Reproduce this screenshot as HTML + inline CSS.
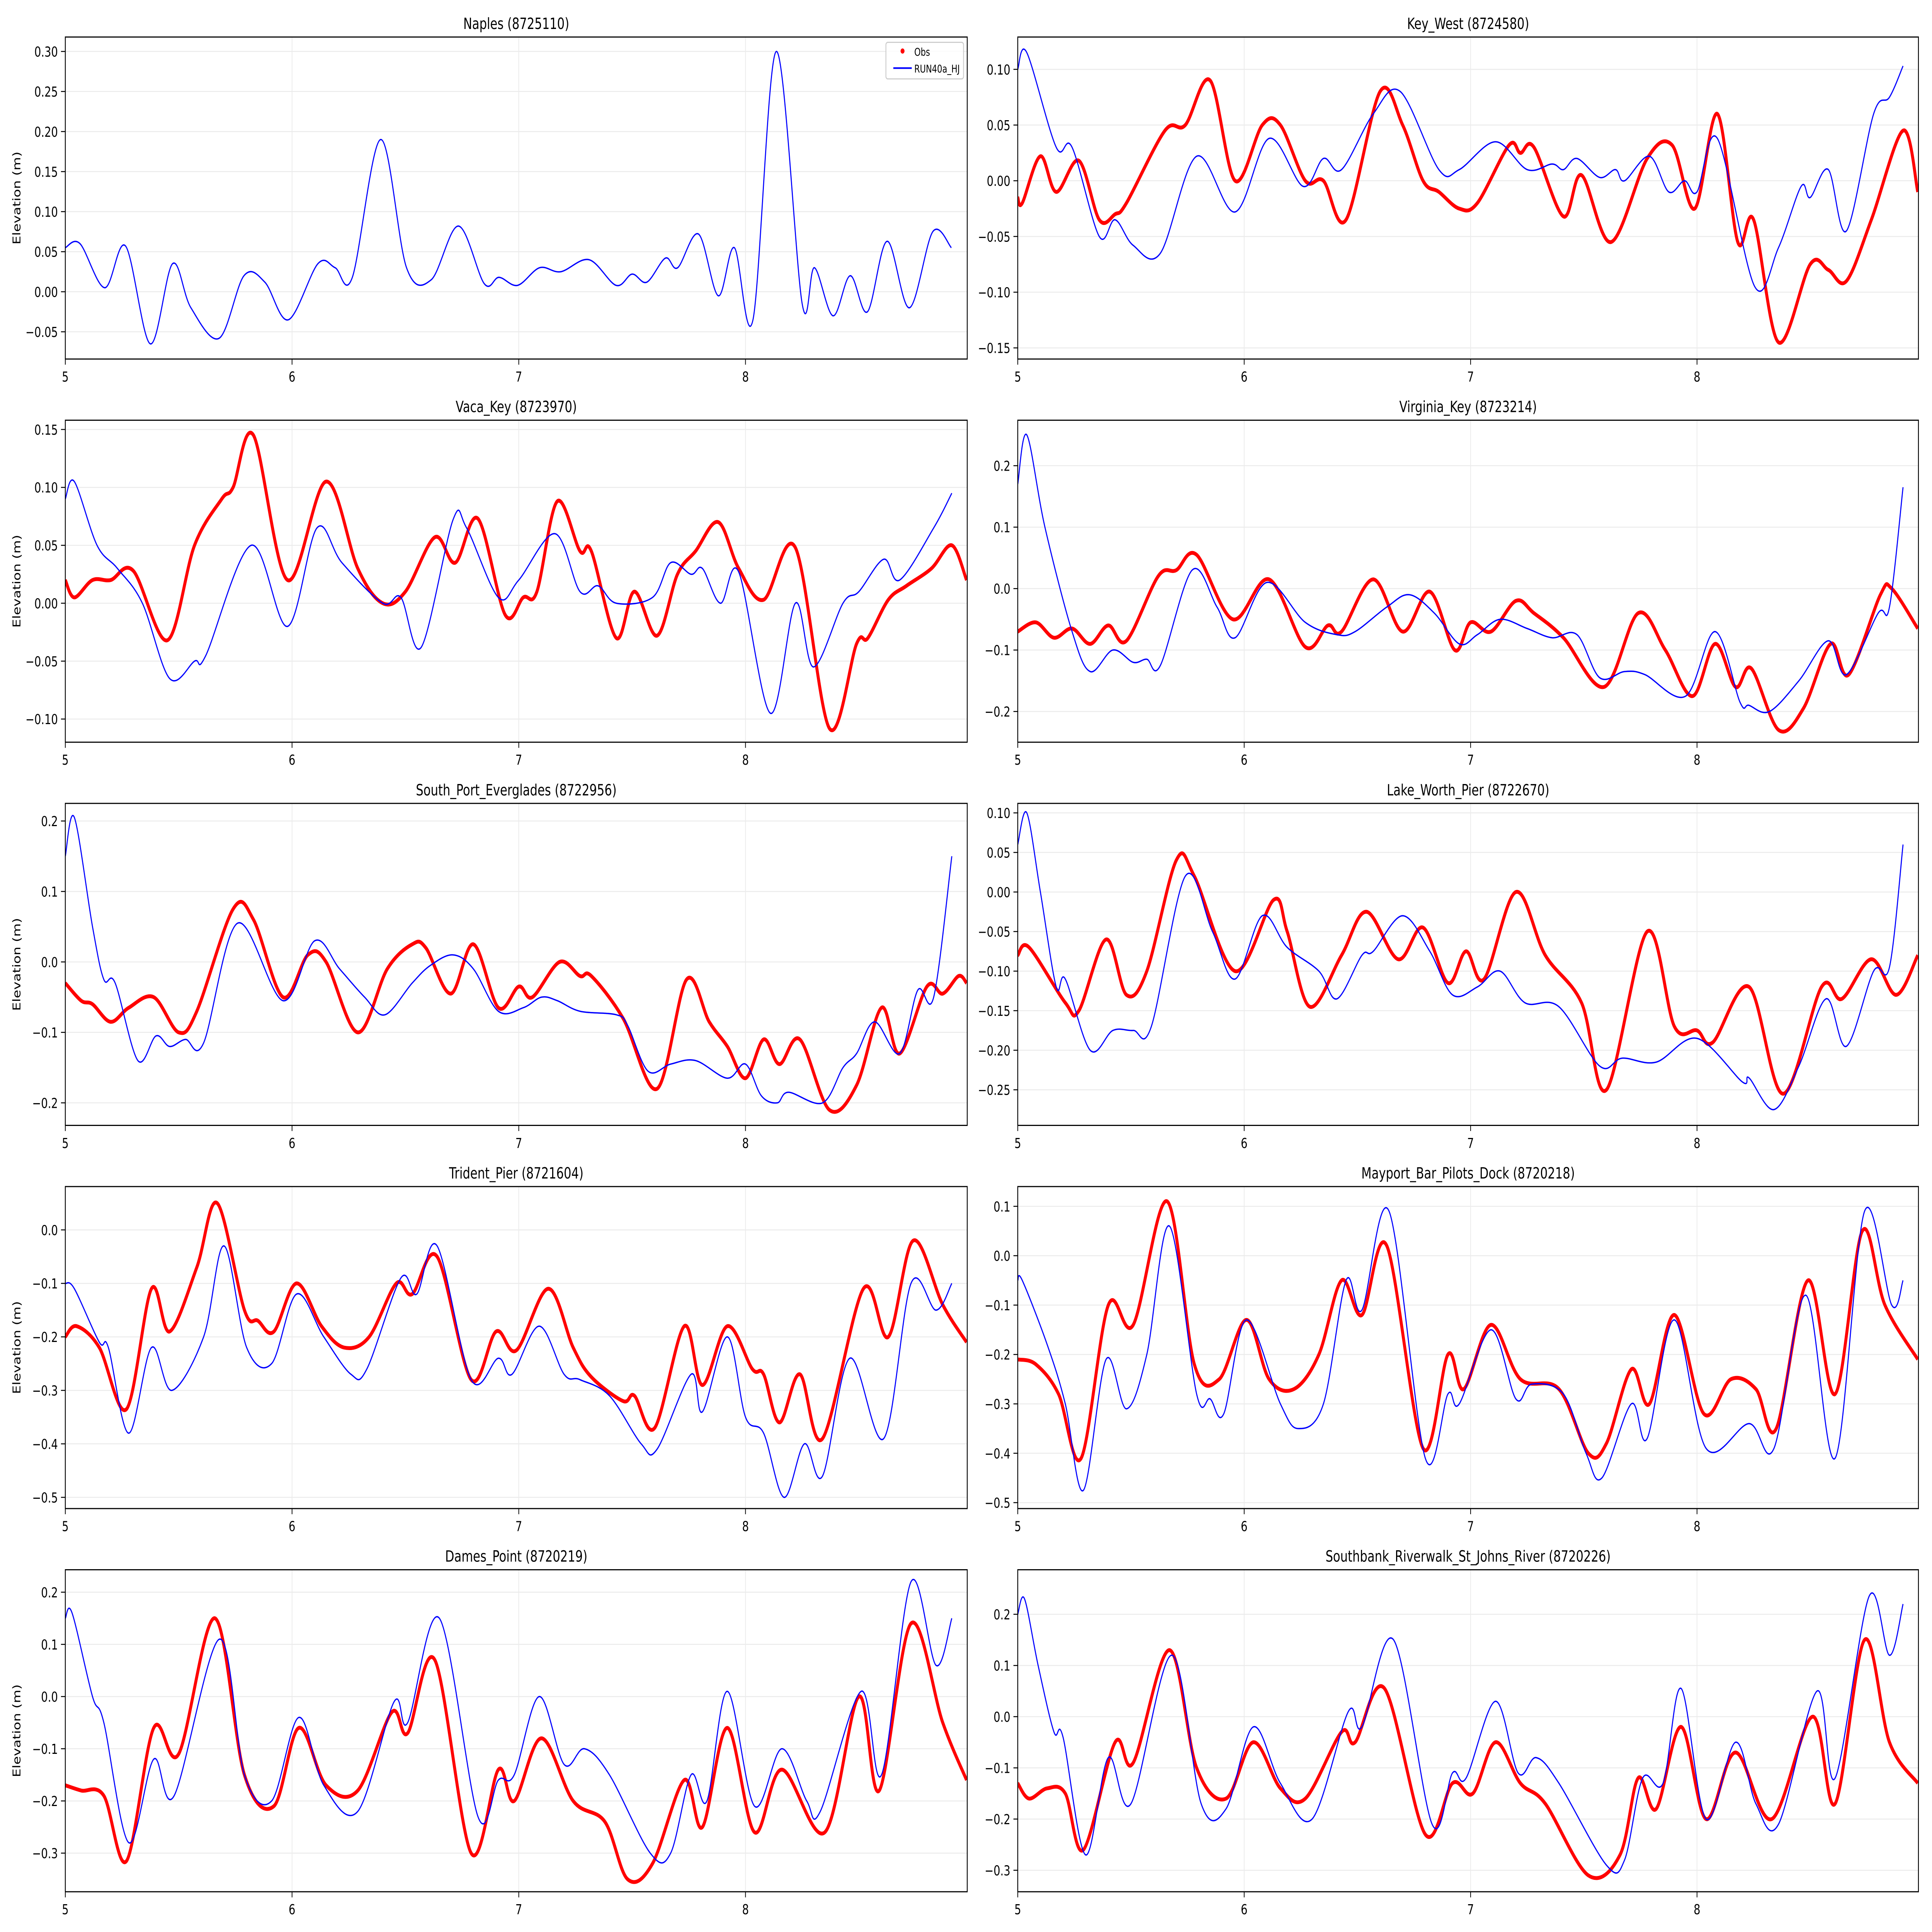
<!DOCTYPE html>
<html><head><meta charset="utf-8">
<style>
html,body{margin:0;padding:0;background:#fff;width:100%;height:100%;overflow:hidden;}
svg{display:block;width:100vw;height:100vh;}
text{font-family:"DejaVu Sans","Liberation Sans",sans-serif;fill:#000;}
</style></head>
<body>
<svg id="fig" xmlns="http://www.w3.org/2000/svg" viewBox="0 0 1568 1200" preserveAspectRatio="none">
<rect x="0" y="0" width="1568" height="1200" fill="#fff"/>
<g id="root"></g>
</svg>
<script>
// ---- data (x in days, y in metres) ----
const naplesBlueT=[5.0,5.065,5.174,5.266,5.375,5.473,5.554,5.679,5.788,5.88,5.984,6.114,6.19,6.266,6.391,6.505,6.614,6.734,6.848,6.913,6.995,7.092,7.185,7.31,7.429,7.5,7.565,7.647,7.701,7.793,7.88,7.951,8.033,8.136,8.25,8.304,8.386,8.462,8.538,8.625,8.723,8.826,8.908];
const naplesBlueV=[0.055,0.06,0.005,0.057,-0.065,0.035,-0.02,-0.058,0.02,0.012,-0.035,0.035,0.03,0.018,0.19,0.03,0.015,0.082,0.01,0.018,0.008,0.03,0.025,0.04,0.008,0.022,0.012,0.042,0.03,0.072,-0.005,0.055,-0.035,0.3,-0.015,0.03,-0.03,0.02,-0.025,0.063,-0.02,0.075,0.055];
const naplesRedT=[];
const naplesRedV=[];

const keyWestBlueT=[5.0,5.04,5.17,5.24,5.36,5.43,5.51,5.63,5.79,5.96,6.11,6.26,6.35,6.43,6.57,6.69,6.86,6.95,7.11,7.25,7.36,7.41,7.47,7.57,7.64,7.68,7.79,7.875,7.945,8.0,8.09,8.255,8.36,8.46,8.5,8.58,8.66,8.78,8.85,8.91];
const keyWestBlueV=[0.10,0.115,0.03,0.03,-0.05,-0.035,-0.058,-0.065,0.022,-0.028,0.038,-0.005,0.02,0.01,0.06,0.08,0.01,0.01,0.035,0.01,0.015,0.01,0.02,0.003,0.01,0.0,0.022,-0.01,0.0,-0.01,0.038,-0.095,-0.06,-0.005,-0.015,0.01,-0.045,0.06,0.075,0.103];
const keyWestRedT=[5.0,5.02,5.10,5.17,5.27,5.36,5.43,5.48,5.65,5.74,5.85,5.96,6.08,6.16,6.27,6.35,6.45,6.6,6.7,6.79,6.86,6.95,7.03,7.17,7.22,7.28,7.41,7.49,7.62,7.78,7.89,7.99,8.09,8.18,8.25,8.36,8.5,8.58,8.66,8.77,8.91,8.975];
const keyWestRedV=[-0.015,-0.02,0.022,-0.01,0.018,-0.035,-0.03,-0.02,0.045,0.05,0.09,0.0,0.05,0.05,0.0,0.0,-0.035,0.08,0.05,0.0,-0.01,-0.025,-0.02,0.032,0.025,0.03,-0.032,0.005,-0.055,0.02,0.032,-0.025,0.06,-0.055,-0.035,-0.145,-0.075,-0.08,-0.09,-0.035,0.045,-0.01];

const vacaBlueT=[5.0,5.04,5.14,5.23,5.34,5.46,5.57,5.62,5.82,5.98,6.11,6.22,6.40,6.48,6.57,6.71,6.77,6.91,7.0,7.16,7.27,7.35,7.43,7.59,7.67,7.76,7.81,7.89,7.97,8.11,8.22,8.30,8.43,8.5,8.61,8.68,8.83,8.91];
const vacaBlueV=[0.09,0.105,0.05,0.03,0.0,-0.065,-0.05,-0.045,0.05,-0.02,0.065,0.035,0.0,0.005,-0.038,0.072,0.065,0.005,0.02,0.06,0.01,0.015,0.0,0.005,0.035,0.025,0.03,0.0,0.027,-0.095,0.0,-0.055,0.0,0.01,0.038,0.02,0.065,0.095];
const vacaRedT=[5.0,5.04,5.12,5.2,5.3,5.45,5.57,5.69,5.74,5.83,5.98,6.15,6.29,6.4,6.5,6.63,6.72,6.82,6.94,7.02,7.08,7.17,7.27,7.32,7.43,7.51,7.61,7.7,7.78,7.88,7.97,8.08,8.22,8.37,8.49,8.54,8.63,8.71,8.82,8.91,8.975];
const vacaRedV=[0.02,0.005,0.02,0.02,0.028,-0.032,0.05,0.09,0.1,0.145,0.02,0.105,0.03,0.0,0.01,0.057,0.035,0.073,-0.01,0.005,0.01,0.088,0.045,0.045,-0.03,0.01,-0.028,0.025,0.045,0.07,0.03,0.003,0.048,-0.108,-0.035,-0.03,0.003,0.015,0.03,0.05,0.02];

const virginiaBlueT=[5.0,5.04,5.12,5.24,5.32,5.42,5.51,5.57,5.63,5.77,5.88,5.96,6.1,6.27,6.41,6.49,6.63,6.73,6.84,6.95,7.03,7.13,7.25,7.36,7.47,7.57,7.68,7.77,7.95,8.08,8.19,8.23,8.32,8.45,8.58,8.66,8.8,8.85,8.91];
const virginiaBlueV=[0.17,0.25,0.1,-0.07,-0.135,-0.1,-0.12,-0.115,-0.125,0.03,-0.03,-0.08,0.01,-0.055,-0.075,-0.07,-0.03,-0.01,-0.04,-0.09,-0.075,-0.05,-0.065,-0.08,-0.075,-0.145,-0.135,-0.14,-0.175,-0.07,-0.185,-0.19,-0.2,-0.15,-0.085,-0.14,-0.04,-0.03,0.165];
const virginiaRedT=[5.0,5.08,5.16,5.24,5.32,5.4,5.48,5.62,5.7,5.79,5.95,6.11,6.27,6.37,6.43,6.57,6.7,6.82,6.93,7.0,7.09,7.2,7.28,7.41,7.59,7.74,7.86,7.98,8.08,8.17,8.24,8.36,8.47,8.59,8.67,8.81,8.86,8.975];
const virginiaRedV=[-0.07,-0.055,-0.08,-0.065,-0.09,-0.06,-0.085,0.02,0.03,0.055,-0.05,0.015,-0.095,-0.06,-0.07,0.015,-0.07,-0.005,-0.1,-0.055,-0.07,-0.02,-0.04,-0.08,-0.16,-0.04,-0.1,-0.175,-0.09,-0.16,-0.13,-0.23,-0.195,-0.09,-0.14,-0.01,0.0,-0.065];

const speBlueT=[5.0,5.04,5.12,5.17,5.22,5.32,5.40,5.46,5.53,5.61,5.76,5.96,6.10,6.21,6.32,6.41,6.53,6.61,6.71,6.80,6.91,7.02,7.10,7.17,7.27,7.43,7.48,7.57,7.67,7.78,7.92,8.0,8.07,8.14,8.19,8.34,8.43,8.49,8.57,8.68,8.76,8.83,8.91];
const speBlueV=[0.15,0.205,0.05,-0.025,-0.03,-0.14,-0.105,-0.12,-0.11,-0.115,0.055,-0.055,0.03,-0.01,-0.05,-0.075,-0.03,-0.005,0.01,-0.01,-0.07,-0.065,-0.05,-0.055,-0.07,-0.075,-0.09,-0.155,-0.145,-0.14,-0.165,-0.145,-0.19,-0.2,-0.185,-0.2,-0.15,-0.13,-0.085,-0.13,-0.04,-0.05,0.15];
const speRedT=[5.0,5.07,5.12,5.2,5.28,5.39,5.5,5.58,5.74,5.83,5.96,6.07,6.15,6.29,6.42,6.53,6.59,6.7,6.8,6.91,7.0,7.06,7.18,7.27,7.32,7.46,7.61,7.74,7.84,7.92,8.0,8.08,8.15,8.24,8.37,8.49,8.6,8.68,8.8,8.87,8.94,8.975];
const speRedV=[-0.03,-0.055,-0.06,-0.085,-0.065,-0.05,-0.1,-0.07,0.075,0.06,-0.05,0.01,0.0,-0.1,-0.01,0.025,0.02,-0.045,0.025,-0.065,-0.035,-0.05,0.0,-0.02,-0.02,-0.08,-0.18,-0.025,-0.085,-0.12,-0.165,-0.11,-0.145,-0.11,-0.21,-0.175,-0.065,-0.13,-0.035,-0.045,-0.02,-0.03];

const lakeWorthBlueT=[5.0,5.04,5.10,5.17,5.21,5.32,5.42,5.51,5.59,5.74,5.86,5.96,6.08,6.19,6.33,6.41,6.52,6.57,6.70,6.82,6.92,7.03,7.13,7.24,7.39,7.57,7.67,7.82,8.0,8.20,8.23,8.34,8.45,8.57,8.66,8.78,8.85,8.91];
const lakeWorthBlueV=[0.06,0.1,0.0,-0.12,-0.11,-0.2,-0.175,-0.175,-0.17,0.02,-0.05,-0.11,-0.03,-0.07,-0.1,-0.135,-0.08,-0.075,-0.03,-0.075,-0.13,-0.12,-0.1,-0.14,-0.145,-0.22,-0.21,-0.215,-0.185,-0.24,-0.235,-0.275,-0.22,-0.135,-0.195,-0.1,-0.095,0.06];
const lakeWorthRedT=[5.0,5.05,5.21,5.27,5.39,5.48,5.57,5.70,5.78,5.96,6.13,6.19,6.29,6.43,6.54,6.68,6.79,6.90,6.98,7.06,7.20,7.33,7.49,7.60,7.78,7.90,8.0,8.07,8.23,8.38,8.55,8.64,8.77,8.88,8.975];
const lakeWorthRedV=[-0.08,-0.07,-0.14,-0.15,-0.06,-0.13,-0.1,0.04,0.02,-0.1,-0.01,-0.05,-0.145,-0.08,-0.025,-0.085,-0.045,-0.115,-0.075,-0.11,0.0,-0.08,-0.14,-0.25,-0.05,-0.17,-0.175,-0.19,-0.12,-0.255,-0.12,-0.135,-0.085,-0.13,-0.08];

const tridentBlueT=[5.0,5.04,5.15,5.19,5.28,5.38,5.47,5.61,5.70,5.80,5.91,6.02,6.14,6.26,6.33,6.48,6.55,6.64,6.79,6.91,6.97,7.09,7.20,7.27,7.40,7.54,7.61,7.76,7.81,7.92,8.0,8.08,8.17,8.26,8.34,8.46,8.61,8.73,8.84,8.91];
const tridentBlueV=[-0.1,-0.11,-0.21,-0.22,-0.38,-0.22,-0.3,-0.2,-0.03,-0.22,-0.25,-0.12,-0.2,-0.27,-0.26,-0.09,-0.12,-0.03,-0.28,-0.24,-0.27,-0.18,-0.27,-0.28,-0.31,-0.4,-0.41,-0.27,-0.34,-0.2,-0.35,-0.38,-0.5,-0.4,-0.46,-0.24,-0.39,-0.1,-0.15,-0.1];
const tridentRedT=[5.0,5.05,5.15,5.27,5.38,5.46,5.58,5.67,5.79,5.85,5.92,6.02,6.13,6.23,6.34,6.46,6.53,6.64,6.79,6.90,6.99,7.13,7.24,7.32,7.46,7.51,7.60,7.73,7.81,7.92,8.03,8.08,8.15,8.24,8.34,8.52,8.63,8.74,8.87,8.975];
const tridentRedV=[-0.2,-0.18,-0.22,-0.335,-0.11,-0.19,-0.07,0.05,-0.15,-0.17,-0.19,-0.1,-0.18,-0.22,-0.2,-0.1,-0.12,-0.05,-0.28,-0.19,-0.225,-0.11,-0.22,-0.275,-0.32,-0.31,-0.37,-0.18,-0.29,-0.18,-0.26,-0.27,-0.36,-0.27,-0.39,-0.11,-0.2,-0.02,-0.14,-0.21];

const mayportBlueT=[5.0,5.02,5.13,5.21,5.29,5.39,5.48,5.57,5.67,5.79,5.85,5.91,6.01,6.16,6.24,6.35,6.45,6.52,6.64,6.80,6.90,6.95,7.09,7.20,7.27,7.41,7.51,7.58,7.71,7.78,7.90,8.04,8.23,8.34,8.48,8.61,8.74,8.86,8.91];
const mayportBlueV=[-0.05,-0.05,-0.18,-0.3,-0.475,-0.21,-0.31,-0.2,0.06,-0.28,-0.29,-0.32,-0.13,-0.3,-0.35,-0.3,-0.05,-0.11,0.09,-0.41,-0.28,-0.3,-0.15,-0.29,-0.26,-0.28,-0.4,-0.45,-0.3,-0.37,-0.13,-0.39,-0.34,-0.39,-0.08,-0.41,0.09,-0.1,-0.05];
const mayportRedT=[5.0,5.08,5.18,5.28,5.40,5.51,5.66,5.78,5.89,6.01,6.11,6.22,6.33,6.43,6.52,6.63,6.79,6.90,6.97,7.09,7.22,7.39,7.52,7.60,7.71,7.79,7.90,8.03,8.15,8.26,8.35,8.49,8.61,8.73,8.83,8.975];
const mayportRedV=[-0.21,-0.22,-0.28,-0.41,-0.1,-0.14,0.11,-0.22,-0.25,-0.13,-0.25,-0.27,-0.2,-0.05,-0.12,0.02,-0.39,-0.2,-0.27,-0.14,-0.25,-0.27,-0.4,-0.38,-0.23,-0.3,-0.12,-0.32,-0.25,-0.27,-0.35,-0.05,-0.28,0.05,-0.1,-0.21];

const damesBlueT=[5.0,5.03,5.12,5.17,5.28,5.39,5.48,5.68,5.79,5.91,6.03,6.14,6.29,6.45,6.51,6.65,6.82,6.91,6.98,7.09,7.20,7.29,7.40,7.58,7.67,7.76,7.83,7.92,8.04,8.16,8.27,8.33,8.51,8.60,8.73,8.84,8.91];
const damesBlueV=[0.15,0.16,0.0,-0.05,-0.28,-0.12,-0.19,0.11,-0.15,-0.2,-0.04,-0.17,-0.22,-0.01,-0.05,0.15,-0.23,-0.16,-0.15,0.0,-0.13,-0.1,-0.15,-0.3,-0.3,-0.15,-0.2,0.01,-0.21,-0.1,-0.2,-0.22,0.01,-0.15,0.22,0.06,0.15];
const damesRedT=[5.0,5.07,5.17,5.27,5.39,5.5,5.66,5.79,5.92,6.03,6.15,6.29,6.44,6.51,6.63,6.79,6.91,6.98,7.10,7.24,7.38,7.48,7.59,7.73,7.81,7.92,8.04,8.16,8.35,8.5,8.59,8.73,8.87,8.975];
const damesRedV=[-0.17,-0.18,-0.19,-0.315,-0.06,-0.11,0.15,-0.15,-0.21,-0.06,-0.17,-0.18,-0.03,-0.07,0.07,-0.3,-0.14,-0.2,-0.08,-0.2,-0.24,-0.35,-0.32,-0.16,-0.25,-0.06,-0.26,-0.14,-0.26,0.0,-0.18,0.14,-0.05,-0.16];

const southbankBlueT=[5.0,5.03,5.09,5.16,5.20,5.30,5.40,5.50,5.68,5.81,5.92,6.04,6.16,6.30,6.46,6.52,6.66,6.83,6.92,6.98,7.11,7.21,7.29,7.39,7.60,7.68,7.76,7.85,7.93,8.04,8.17,8.26,8.36,8.53,8.61,8.76,8.85,8.91];
const southbankBlueV=[0.2,0.23,0.1,-0.03,-0.04,-0.27,-0.08,-0.17,0.12,-0.17,-0.18,-0.02,-0.13,-0.2,0.01,-0.02,0.15,-0.21,-0.11,-0.12,0.03,-0.11,-0.08,-0.13,-0.29,-0.28,-0.12,-0.13,0.055,-0.2,-0.05,-0.17,-0.21,0.05,-0.12,0.235,0.12,0.22];
const southbankRedT=[5.0,5.05,5.13,5.21,5.29,5.43,5.51,5.67,5.79,5.92,6.04,6.16,6.27,6.43,6.49,6.62,6.80,6.92,7.01,7.11,7.22,7.33,7.52,7.66,7.74,7.82,7.93,8.04,8.17,8.33,8.51,8.61,8.74,8.85,8.975];
const southbankRedV=[-0.13,-0.16,-0.14,-0.15,-0.26,-0.05,-0.09,0.13,-0.1,-0.16,-0.05,-0.14,-0.16,-0.03,-0.05,0.055,-0.23,-0.13,-0.15,-0.05,-0.13,-0.17,-0.31,-0.27,-0.12,-0.18,-0.02,-0.2,-0.07,-0.2,0.0,-0.17,0.15,-0.05,-0.13];

const panelTitles=["Naples (8725110)","Key_West (8724580)","Vaca_Key (8723970)","Virginia_Key (8723214)","South_Port_Everglades (8722956)","Lake_Worth_Pier (8722670)","Trident_Pier (8721604)","Mayport_Bar_Pilots_Dock (8720218)","Dames_Point (8720219)","Southbank_Riverwalk_St_Johns_River (8720226)"];
const yMins=[-0.084,-0.16,-0.12,-0.25,-0.232,-0.295,-0.521,-0.512,-0.374,-0.342];
const yMaxs=[0.318,0.129,0.158,0.274,0.225,0.112,0.081,0.14,0.243,0.287];
const yTickLabels=[
 ["−0.05","0.00","0.05","0.10","0.15","0.20","0.25","0.30"],
 ["−0.15","−0.10","−0.05","0.00","0.05","0.10"],
 ["−0.10","−0.05","0.00","0.05","0.10","0.15"],
 ["−0.2","−0.1","0.0","0.1","0.2"],
 ["−0.2","−0.1","0.0","0.1","0.2"],
 ["−0.25","−0.20","−0.15","−0.10","−0.05","0.00","0.05","0.10"],
 ["−0.5","−0.4","−0.3","−0.2","−0.1","0.0"],
 ["−0.5","−0.4","−0.3","−0.2","−0.1","0.0","0.1"],
 ["−0.3","−0.2","−0.1","0.0","0.1","0.2"],
 ["−0.3","−0.2","−0.1","0.0","0.1","0.2"]];
const xTicks=[5,6,7,8];
const blueSeries=[[naplesBlueT,naplesBlueV],[keyWestBlueT,keyWestBlueV],[vacaBlueT,vacaBlueV],[virginiaBlueT,virginiaBlueV],[speBlueT,speBlueV],[lakeWorthBlueT,lakeWorthBlueV],[tridentBlueT,tridentBlueV],[mayportBlueT,mayportBlueV],[damesBlueT,damesBlueV],[southbankBlueT,southbankBlueV]];
const redSeries=[[naplesRedT,naplesRedV],[keyWestRedT,keyWestRedV],[vacaRedT,vacaRedV],[virginiaRedT,virginiaRedV],[speRedT,speRedV],[lakeWorthRedT,lakeWorthRedV],[tridentRedT,tridentRedV],[mayportRedT,mayportRedV],[damesRedT,damesRedV],[southbankRedT,southbankRedV]];

// ---- layout (coordinates in 1568x1200 viewBox units) ----
const NS="http://www.w3.org/2000/svg";
const svg=document.getElementById('fig');
const root=document.getElementById('root');


const X0=5, X1=8.978;
const colLeft=[53,826], colW=[732,731];
const rowTop=[23,261,499,737,975], H=200;
function mk(tag,attrs,parent){const e=document.createElementNS(NS,tag);for(const k in attrs)e.setAttribute(k,attrs[k]);(parent||root).appendChild(e);return e;}
function smoothPath(px,py){
  const n=px.length; if(n<2) return "";
  let d="M"+px[0].toFixed(2)+","+py[0].toFixed(2);
  for(let i=0;i<n-1;i++){
    const p0=Math.max(0,i-1),p3=Math.min(n-1,i+2);
    const c1x=px[i]+(px[i+1]-px[p0])/6,c1y=py[i]+(py[i+1]-py[p0])/6;
    const c2x=px[i+1]-(px[p3]-px[i])/6,c2y=py[i+1]-(py[p3]-py[i])/6;
    d+=" C"+c1x.toFixed(2)+","+c1y.toFixed(2)+" "+c2x.toFixed(2)+","+c2y.toFixed(2)+" "+px[i+1].toFixed(2)+","+py[i+1].toFixed(2);
  }
  return d;
}
const defs=mk('defs',{},svg);
for(let p=0;p<10;p++){
  const col=p%2,row=Math.floor(p/2);
  const L=colLeft[col],W=colW[col],T=rowTop[row];
  const ymin=yMins[p],ymax=yMaxs[p];
  const xs=v=>L+(v-X0)/(X1-X0)*W;
  const ys=v=>T+H-(v-ymin)/(ymax-ymin)*H;
  const g=mk('g',{});
  
  
  const cp=mk('clipPath',{id:'clip'+p,clipPathUnits:'userSpaceOnUse'},defs);
  mk('rect',{x:L,y:T,width:W,height:H},cp);
  xTicks.forEach(t=>{
    const gl=mk('line',{x1:xs(t),x2:xs(t),y1:T,y2:T+H,stroke:'#ebebeb','stroke-width':0.6},g);
    
    
  });
  yTickLabels[p].forEach(lab=>{
    const v=parseFloat(lab.replace('−','-'));
    const y=ys(v);
    const gl=mk('line',{x1:L,x2:L+W,y1:y,y2:y,stroke:'#ebebeb','stroke-width':0.6},g);
    
    
    mk('line',{x1:L-3.5,x2:L,y1:y,y2:y,stroke:'#000','stroke-width':0.6},g);
    const tx=mk('text',{x:L-6,y:y+3.2,'font-size':8.6,'text-anchor':'end'},g);
    tx.textContent=lab;
    
    
  });
  xTicks.forEach(t=>{
    const x=xs(t);
    mk('line',{x1:x,x2:x,y1:T+H,y2:T+H+3.5,stroke:'#000','stroke-width':0.6},g);
    const tx=mk('text',{x:x,y:T+H+14,'font-size':8.6,'text-anchor':'middle'},g);
    tx.textContent=String(t);
    
    
  });
  const [bt,bv]=blueSeries[p],[rt,rv]=redSeries[p];
  const bn=Math.min(bt.length,bv.length), rn=Math.min(rt.length,rv.length);
  if(rn>1){
    const path=mk('path',{d:smoothPath(rt.slice(0,rn).map(xs),rv.slice(0,rn).map(ys)),fill:'none',stroke:'#ff0000','stroke-width':2.4,'stroke-linejoin':'round','clip-path':'url(#clip'+p+')'},g);
    
    
  }
  if(bn>1){
    const path=mk('path',{d:smoothPath(bt.slice(0,bn).map(xs),bv.slice(0,bn).map(ys)),fill:'none',stroke:'#0000ff','stroke-width':0.85,'stroke-linejoin':'round','clip-path':'url(#clip'+p+')'},g);
    
    
  }
  const fr=mk('rect',{x:L,y:T,width:W,height:H,fill:'none',stroke:'#000','stroke-width':0.7},g);
  
  
  const ti=mk('text',{x:L+W/2,y:T-5,'font-size':9.6,'text-anchor':'middle'},g);
  ti.textContent=panelTitles[p];
  
  
  if(col===0){
    const yl=mk('text',{x:0,y:0,'font-size':8.6,'text-anchor':'middle',transform:'translate(16.5,'+(T+H/2)+') rotate(-90)'},g);
    yl.textContent='Elevation (m)';
    
    
  }
}
const lg=mk('g',{});


mk('rect',{x:719,y:26.3,width:63,height:22.7,rx:1.5,fill:'#fff','fill-opacity':0.8,stroke:'#cccccc','stroke-width':0.7},lg);
mk('circle',{cx:732.5,cy:31.7,r:1.6,fill:'#ff0000'},lg);
const l1=mk('text',{x:742,y:34.6,'font-size':6.6},lg);
l1.textContent='Obs';


mk('line',{x1:725,x2:740,y1:42.3,y2:42.3,stroke:'#0000ff','stroke-width':1},lg);
const l2=mk('text',{x:742,y:45,'font-size':6.6},lg);
l2.textContent='RUN40a_HJ';


</script>
</body></html>
